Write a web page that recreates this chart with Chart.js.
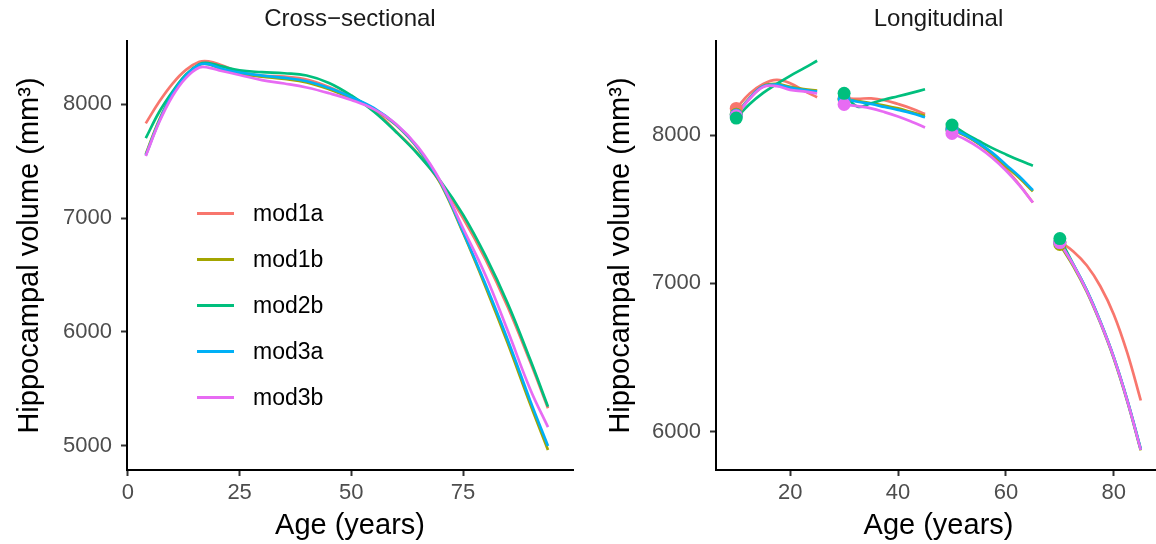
<!DOCTYPE html>
<html lang="en">
<head>
<meta charset="UTF-8">
<title>Hippocampal volume by age</title>
<script src="https://cdn.jsdelivr.net/npm/chart.js@4.4.1/dist/chart.umd.min.js"></script>
<style>
    body { margin: 0; width: 1156px; height: 544px; overflow: hidden; background: #fff; position: relative;
           font-family: "Liberation Sans", Arial, sans-serif; }
    canvas { position: absolute; top: 0; }
    #crossChart { left: 0; }
    #longChart { left: 578px; }
    .strip { position: absolute; top: 0; height: 36px; line-height: 36px; text-align: center; font-size: 24px; color: #1a1a1a; }
    .legend { position: absolute; left: 197px; top: 190px; }
    .legend-row { height: 46px; display: flex; align-items: center; }
    .legend-key { width: 37px; height: 3px; margin-right: 19px; }
    .legend-label { font-size: 23px; color: #000; }
</style>
</head>
<body>
    <canvas id="crossChart" width="578" height="544"></canvas>
    <canvas id="longChart" width="600" height="544"></canvas>
    <div class="strip" style="left:127px;width:446px;">Cross−sectional</div>
    <div class="strip" style="left:716px;width:445px;">Longitudinal</div>
    <div class="legend" id="legend"></div>

    <script>
        const seriesNames = ['mod1a', 'mod1b', 'mod2b', 'mod3a', 'mod3b'];
        const seriesColors = ['#F8766D', '#A3A500', '#00BF7D', '#00B0F6', '#E76BF3'];

        // Cross-sectional curves
        const crossAges = [4, 7, 10, 13, 16, 18, 21, 25, 30, 35, 40, 45, 50, 55, 60, 65, 70, 75, 80, 85, 90, 94];
        const crossMod1a = [7830, 8020, 8180, 8300, 8370, 8375, 8340, 8280, 8250, 8240, 8215, 8150, 8060, 7950, 7760, 7560, 7310, 7000, 6640, 6220, 5740, 5330];
        const crossMod1b = [7560, 7860, 8090, 8250, 8345, 8350, 8305, 8265, 8240, 8220, 8190, 8130, 8050, 7960, 7815, 7605, 7300, 6870, 6400, 5900, 5370, 4965];
        const crossMod2b = [7700, 7930, 8110, 8260, 8350, 8360, 8330, 8295, 8280, 8270, 8250, 8185, 8075, 7935, 7755, 7555, 7320, 7030, 6670, 6250, 5760, 5345];
        const crossMod3a = [7550, 7850, 8090, 8250, 8345, 8350, 8310, 8275, 8250, 8230, 8200, 8140, 8060, 7965, 7820, 7610, 7310, 6880, 6420, 5930, 5400, 5000];
        const crossMod3b = [7545, 7840, 8070, 8230, 8320, 8320, 8290, 8255, 8210, 8180, 8145, 8095, 8035, 7955, 7825, 7620, 7320, 6910, 6500, 6010, 5500, 5165];

        // Longitudinal: four 15-year follow-ups, 7 points each
        const segLen = 7;
        const longAges = [10, 12.5, 15, 17.5, 20, 22.5, 25,
                          30, 32.5, 35, 37.5, 40, 42.5, 45,
                          50, 52.5, 55, 57.5, 60, 62.5, 65,
                          70, 72.5, 75, 77.5, 80, 82.5, 85];
        const longMod1a = [8180, 8280, 8345, 8372, 8350, 8300, 8255,
                           8248, 8245, 8248, 8235, 8210, 8180, 8142,
                           8045, 8000, 7940, 7865, 7770, 7665, 7545,
                           7280, 7215, 7120, 6980, 6790, 6530, 6209];
        const longMod1b = [8140, 8250, 8330, 8345, 8325, 8310, 8300,
                           8240, 8230, 8215, 8200, 8180, 8155, 8130,
                           8035, 7995, 7940, 7872, 7790, 7710, 7620,
                           7262, 7115, 6942, 6733, 6492, 6203, 5872];
        const longMod2b = [8115, 8210, 8285, 8345, 8400, 8450, 8502,
                           8282, 8192, 8215, 8240, 8262, 8285, 8309,
                           8068, 8010, 7960, 7912, 7870, 7830, 7793,
                           7302, 7128, 6952, 6742, 6500, 6212, 5880];
        const longMod3a = [8135, 8250, 8330, 8340, 8320, 8305, 8293,
                           8245, 8225, 8210, 8190, 8170, 8148, 8120,
                           8040, 8000, 7945, 7880, 7800, 7720, 7628,
                           7275, 7125, 6950, 6740, 6500, 6210, 5878];
        const longMod3b = [8130, 8245, 8325, 8330, 8305, 8295, 8282,
                           8207, 8195, 8180, 8155, 8125, 8090, 8052,
                           8011, 7970, 7915, 7845, 7760, 7660, 7545,
                           7275, 7124, 6948, 6738, 6498, 6208, 5876];

        const crossXTicks = [0, 25, 50, 75];
        const crossYTicks = [5000, 6000, 7000, 8000];
        const longXTicks = [20, 40, 60, 80];
        const longYTicks = [6000, 7000, 8000];

        const FONT = '"Liberation Sans", Arial, sans-serif';
        const lineOrder = [14, 13, 12, 11, 10];
        const pointOrder = [4, 3, 0, 2, 1];

        function makeScales(xr, yr, xTicks, yTicks, yWidth, yTitlePad) {
            const tickFont = { family: FONT, size: 22 };
            const grid = { display: true, drawOnChartArea: false, drawTicks: true, tickLength: 6, tickWidth: 2, tickColor: '#333333' };
            const border = { display: true, color: '#000', width: 2 };
            return {
                x: {
                    type: 'linear', min: xr[0], max: xr[1],
                    afterBuildTicks: s => { s.ticks = xTicks.map(v => ({ value: v })); },
                    afterFit: s => { s.height = 74; },
                    grid: grid, border: border,
                    ticks: { font: tickFont, color: '#4D4D4D', padding: 4, maxRotation: 0, autoSkip: false, callback: v => String(v) },
                    title: { display: true, text: 'Age (years)', color: '#000', font: { family: FONT, size: 29 }, padding: { top: 0, bottom: 1 } }
                },
                y: {
                    type: 'linear', min: yr[0], max: yr[1],
                    afterBuildTicks: s => { s.ticks = yTicks.map(v => ({ value: v })); },
                    afterFit: s => { s.width = yWidth; },
                    grid: grid, border: border,
                    ticks: { font: tickFont, color: '#4D4D4D', padding: 9, autoSkip: false, callback: v => String(v) },
                    title: { display: true, text: 'Hippocampal volume (mm³)', color: '#000', font: { family: FONT, size: 29 }, padding: { top: yTitlePad, bottom: 0 } }
                }
            };
        }

        const baseOptions = {
            responsive: false,
            animation: false,
            plugins: { legend: { display: false }, tooltip: { enabled: false } }
        };

        // Left panel
        const crossSeries = [crossMod1a, crossMod1b, crossMod2b, crossMod3a, crossMod3b];
        new Chart(document.getElementById('crossChart'), {
            type: 'line',
            data: {
                datasets: crossSeries.map((vals, i) => ({
                    label: seriesNames[i],
                    data: crossAges.map((a, j) => ({ x: a, y: vals[j] })),
                    borderColor: seriesColors[i],
                    borderWidth: 2.7,
                    pointRadius: 0,
                    tension: 0.4,
                    order: lineOrder[i]
                }))
            },
            options: Object.assign({}, baseOptions, {
                layout: { padding: { top: 41, right: 5, left: 0, bottom: 0 } },
                scales: makeScales([-0.2, 99.6], [4789, 8553], crossXTicks, crossYTicks, 127, 13)
            })
        });

        // Right panel
        const longSeries = [longMod1a, longMod1b, longMod2b, longMod3a, longMod3b];
        const longDatasets = [];
        longSeries.forEach((vals, i) => {
            const pts = [];
            longAges.forEach((a, j) => {
                pts.push({ x: a, y: vals[j] });
                if ((j + 1) % segLen === 0 && j < longAges.length - 1) pts.push({ x: a + 2.5, y: null });
            });
            longDatasets.push({
                label: seriesNames[i],
                data: pts,
                borderColor: seriesColors[i],
                borderWidth: 2.7,
                pointRadius: 0,
                spanGaps: false,
                tension: 0.4,
                order: lineOrder[i]
            });
            const starts = [];
            for (let j = 0; j < longAges.length; j += segLen) starts.push({ x: longAges[j], y: vals[j] });
            longDatasets.push({
                label: seriesNames[i] + ' start',
                data: starts,
                showLine: false,
                pointRadius: 6.5,
                pointBackgroundColor: seriesColors[i],
                pointBorderColor: seriesColors[i],
                pointBorderWidth: 0,
                order: pointOrder[i]
            });
        });
        new Chart(document.getElementById('longChart'), {
            type: 'line',
            data: { datasets: longDatasets },
            options: Object.assign({}, baseOptions, {
                layout: { padding: { top: 41, right: 600 - 583, left: 0, bottom: 0 } },
                scales: makeScales([6.25, 88.75], [5740, 8635], longXTicks, longYTicks, 138, 26)
            })
        });

        // Legend inside left panel
        const legend = document.getElementById('legend');
        seriesNames.forEach((name, i) => {
            const row = document.createElement('div');
            row.className = 'legend-row';
            row.innerHTML = `<div class="legend-key" style="background:${seriesColors[i]}"></div><span class="legend-label">${name}</span>`;
            legend.appendChild(row);
        });
    </script>
</body>
</html>
